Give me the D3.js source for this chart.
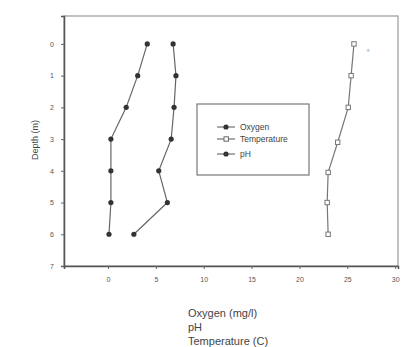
<!DOCTYPE html>
<html><head><meta charset="utf-8">
<script src="https://cdn.jsdelivr.net/npm/d3@7"></script>
<style>body{margin:0;background:#fff}svg{display:block}text{font-family:Arial,"Liberation Sans",sans-serif}</style>
</head><body>
<script>
const depths = [0,1,2,3,4,5,6];
const oxygen = [4.1,3.1,1.9,0.3,0.3,0.3,0.1];
const ph = [6.8,7.1,6.9,6.6,5.3,6.2,2.7];
const tempDepths = [0,1,2,3.1,4.05,5,6];
const temperature = [25.7,25.4,25.1,24.0,23.0,22.9,23.0];
const xTicks = [0,5,10,15,20,25,30];
const yTicks = [0,1,2,3,4,5,6,7];
const legendLabels = ["Oxygen","Temperature","pH"];
const xTitle = ["Oxygen (mg/l)","pH","Temperature (C)"];

const W=405,H=347;
const svg=d3.select("body").append("svg").attr("width",W).attr("height",H);
const x=d3.scaleLinear().domain([-4.6,30.3]).range([64,398]);
const y=d3.scaleLinear().domain([-0.88,7]).range([16,266]);

svg.append("rect").attr("x",x(-4.6)).attr("y",y(-0.88)).attr("width",x(30.3)-x(-4.6)).attr("height",y(7)-y(-0.88))
  .attr("fill","none").attr("stroke","#999").attr("stroke-width",1.2);

const xa=svg.append("g").attr("transform",`translate(0,${y(7)})`).call(d3.axisBottom(x).tickValues(xTicks).tickSize(3).tickPadding(8));
const ya=svg.append("g").attr("transform",`translate(${x(-4.6)},0)`).call(d3.axisLeft(y).tickValues(yTicks).tickSize(3).tickPadding(7));
[xa,ya].forEach(a=>{a.select(".domain").attr("stroke","#555").attr("stroke-width",1.5);a.selectAll(".tick line").attr("stroke","#666");a.selectAll("text").attr("font-size",7).attr("fill","#555");});

const line=(xs,ys)=>d3.line().x((d,i)=>x(xs[i])).y((d,i)=>y(ys[i]))(xs);
svg.append("path").attr("d",line(oxygen,depths)).attr("fill","none").attr("stroke","#666").attr("stroke-width",1.2);
svg.append("path").attr("d",line(ph,depths)).attr("fill","none").attr("stroke","#666").attr("stroke-width",1.2);
svg.append("path").attr("d",line(temperature,tempDepths)).attr("fill","none").attr("stroke","#777").attr("stroke-width",1.2);

svg.selectAll(".ox").data(oxygen).enter().append("circle").attr("cx",d=>x(d)).attr("cy",(d,i)=>y(depths[i])).attr("r",2.6).attr("fill","#333");
svg.selectAll(".ph").data(ph).enter().append("circle").attr("cx",d=>x(d)).attr("cy",(d,i)=>y(depths[i])).attr("r",2.6).attr("fill","#333");
svg.selectAll(".tp").data(temperature).enter().append("rect").attr("x",d=>x(d)-2.2).attr("y",(d,i)=>y(tempDepths[i])-2.2).attr("width",4.4).attr("height",4.4).attr("fill","#fff").attr("stroke","#777").attr("stroke-width",1);
svg.append("text").attr("x",368).attr("y",53).attr("text-anchor","middle").attr("font-size",8).attr("fill","#aaa").text("+");

const lg=svg.append("g");
lg.append("rect").attr("x",197).attr("y",104).attr("width",112).attr("height",71).attr("fill","#fff").attr("stroke","#777").attr("stroke-width",1.2);
const ly=[127,139,154];
legendLabels.forEach((t,i)=>{
  lg.append("line").attr("x1",217).attr("x2",235).attr("y1",ly[i]).attr("y2",ly[i]).attr("stroke","#555");
  if(i===1) lg.append("rect").attr("x",224).attr("y",ly[i]-2.2).attr("width",4.4).attr("height",4.4).attr("fill","#fff").attr("stroke","#666");
  else lg.append("circle").attr("cx",226).attr("cy",ly[i]).attr("r",2.6).attr("fill","#333");
  lg.append("text").attr("x",240).attr("y",ly[i]+3).attr("font-size",8.5).attr("fill","#444").text(t);
});

svg.append("text").attr("transform",`translate(38,140) rotate(-90)`).attr("text-anchor","middle").attr("font-size",9).attr("fill","#444").text("Depth (m)");
xTitle.forEach((t,i)=>svg.append("text").attr("x",188).attr("y",[317,331,345][i]).attr("font-size",11).attr("fill","#444").text(t));
</script>
</body></html>
